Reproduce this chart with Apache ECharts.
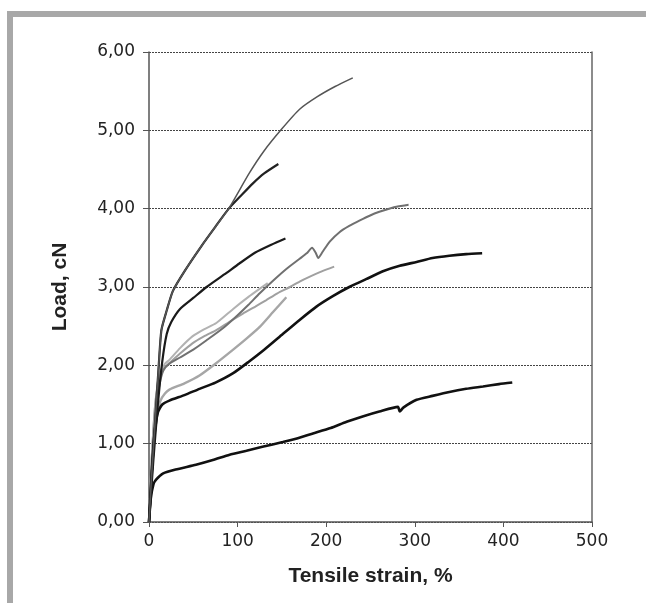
<!DOCTYPE html>
<html>
<head>
<meta charset="utf-8">
<script src="https://cdn.jsdelivr.net/npm/echarts@6/dist/echarts.min.js"></script>
<style>
  html, body { margin: 0; padding: 0; background: #fff; }
  #chart { width: 646px; height: 603px; }
</style>
</head>
<body>
<div id="chart"></div>
<script>
// strain (%) / load (cN) pairs
var curveA = [[0,0],[3,0.6],[7,1.3],[11,2.0],[14,2.45],[20,2.7],[27,2.95],[40,3.2],[59,3.52],[75,3.77],[90,4.0],[113,4.45],[130,4.74],[150,5.02],[170,5.27],[190,5.43],[210,5.56],[230,5.67]];
var curveB = [[0,0],[3,0.6],[7,1.3],[11,2.0],[14,2.45],[20,2.7],[27,2.95],[40,3.2],[59,3.52],[75,3.77],[90,4.0],[105,4.18],[117,4.32],[130,4.45],[146,4.57]];
var curveC = [[0,0],[5,0.8],[10,1.5],[15,2.05],[20,2.4],[25,2.55],[35,2.72],[50,2.86],[65,3.0],[85,3.16],[102,3.3],[120,3.44],[138,3.54],[154,3.62]];
var curveD = [[0,0],[3,0.7],[7,1.3],[11,1.7],[16,1.93],[23,2.02],[35,2.1],[50,2.2],[65,2.32],[83,2.47],[100,2.64],[112,2.77],[125,2.92],[140,3.08],[155,3.23],[170,3.36],[178,3.43],[184,3.5],[188,3.44],[191,3.37],[196,3.45],[204,3.58],[215,3.7],[226,3.78],[238,3.85],[249,3.91],[260,3.96],[271,4.0],[282,4.03],[293,4.05]];
var curveE = [[0,0],[3,0.8],[7,1.5],[12,1.85],[18,1.98],[23,2.03],[35,2.15],[49,2.28],[62,2.37],[76,2.45],[90,2.55],[106,2.66],[120,2.75],[132,2.83],[145,2.92],[159,3.0],[170,3.07],[181,3.13],[195,3.2],[209,3.26]];
var curveF = [[0,0],[3,0.6],[6,1.05],[9,1.35],[13,1.55],[18,1.64],[23,1.69],[40,1.77],[57,1.87],[75,2.02],[95,2.2],[110,2.34],[125,2.49],[140,2.68],[155,2.87]];
var curveH = [[0,0],[3,0.8],[7,1.5],[12,1.9],[18,2.02],[23,2.07],[35,2.22],[49,2.37],[62,2.46],[76,2.54],[95,2.72],[113,2.88],[124,2.97],[134,3.05]];
var curveI = [[0,0],[3,0.6],[6,1.1],[10,1.4],[15,1.5],[23,1.55],[40,1.62],[57,1.7],[75,1.78],[95,1.9],[113,2.05],[130,2.2],[151,2.4],[170,2.58],[189,2.75],[207,2.88],[226,3.0],[245,3.1],[264,3.2],[283,3.27],[302,3.32],[320,3.37],[339,3.4],[358,3.42],[376,3.43]];
var curveJ = [[0,0],[2,0.3],[5,0.48],[8,0.54],[16,0.62],[30,0.67],[53,0.73],[72,0.79],[91,0.86],[110,0.91],[128,0.96],[151,1.02],[168,1.07],[185,1.13],[205,1.2],[223,1.28],[242,1.35],[260,1.41],[281,1.47],[283,1.41],[287,1.46],[302,1.56],[320,1.61],[339,1.66],[358,1.7],[377,1.73],[395,1.76],[410,1.78]];

var xTicks = [0, 500, 100];
var yTicks = [0, 6, 1];

var looks = [
  { data: curveF, color: '#a6a6a6', width: 2.4 },
  { data: curveH, color: '#b2b2b2', width: 2 },
  { data: curveE, color: '#a0a0a0', width: 2 },
  { data: curveD, color: '#707070', width: 2 },
  { data: curveJ, color: '#111111', width: 2.6 },
  { data: curveI, color: '#111111', width: 2.6 },
  { data: curveC, color: '#1a1a1a', width: 2.2 },
  { data: curveB, color: '#222222', width: 2.2 },
  { data: curveA, color: '#555555', width: 1.5 }
];

var series = looks.map(function (l) {
  return {
    type: 'line',
    data: l.data,
    showSymbol: false,
    smooth: 0.2,
    lineStyle: { color: l.color, width: l.width },
    silent: true
  };
});

var chart = echarts.init(document.getElementById('chart'));
chart.setOption({
  animation: false,
  backgroundColor: '#fff',
  grid: { left: 149, right: 54, top: 52, bottom: 81 },
  xAxis: {
    type: 'value',
    min: xTicks[0], max: xTicks[1], interval: xTicks[2],
    name: 'Tensile strain, %',
    nameLocation: 'middle',
    nameGap: 44,
    nameTextStyle: { fontFamily: 'Liberation Sans', fontWeight: 'bold', fontSize: 21, color: '#222' },
    axisLine: { lineStyle: { color: '#555', width: 1.5 } },
    axisTick: { show: true, length: 5, lineStyle: { color: '#555' } },
    axisLabel: { margin: 11, fontFamily: 'DejaVu Sans', fontSize: 17, color: '#222' },
    splitLine: { show: false }
  },
  yAxis: [{
    type: 'value',
    min: yTicks[0], max: yTicks[1], interval: yTicks[2],
    name: 'Load, cN',
    nameLocation: 'middle',
    nameGap: 78,
    nameTextStyle: { fontFamily: 'Liberation Sans', fontWeight: 'bold', fontSize: 21, color: '#222' },
    axisLine: { show: true, lineStyle: { color: '#555', width: 1.5 } },
    axisTick: { show: true, length: 6, lineStyle: { color: '#555' } },
    axisLabel: {
      margin: 14, fontFamily: 'DejaVu Sans', fontSize: 17, color: '#222',
      formatter: function (v) { return v.toFixed(2).replace('.', ','); }
    },
    splitLine: { show: true, lineStyle: { color: '#444', width: 1, type: [2, 1] } }
  }, {
    type: 'value',
    position: 'right',
    min: yTicks[0], max: yTicks[1], interval: yTicks[2],
    axisLine: { show: true, lineStyle: { color: '#666', width: 1.5 } },
    axisTick: { show: false },
    axisLabel: { show: false },
    splitLine: { show: false }
  }],
  graphic: [
    { type: 'rect', shape: { x: 7, y: 11, width: 639, height: 6 }, style: { fill: '#a8a8a8' } },
    { type: 'rect', shape: { x: 7, y: 11, width: 6, height: 592 }, style: { fill: '#a8a8a8' } }
  ],
  series: series
});
</script>
</body>
</html>
